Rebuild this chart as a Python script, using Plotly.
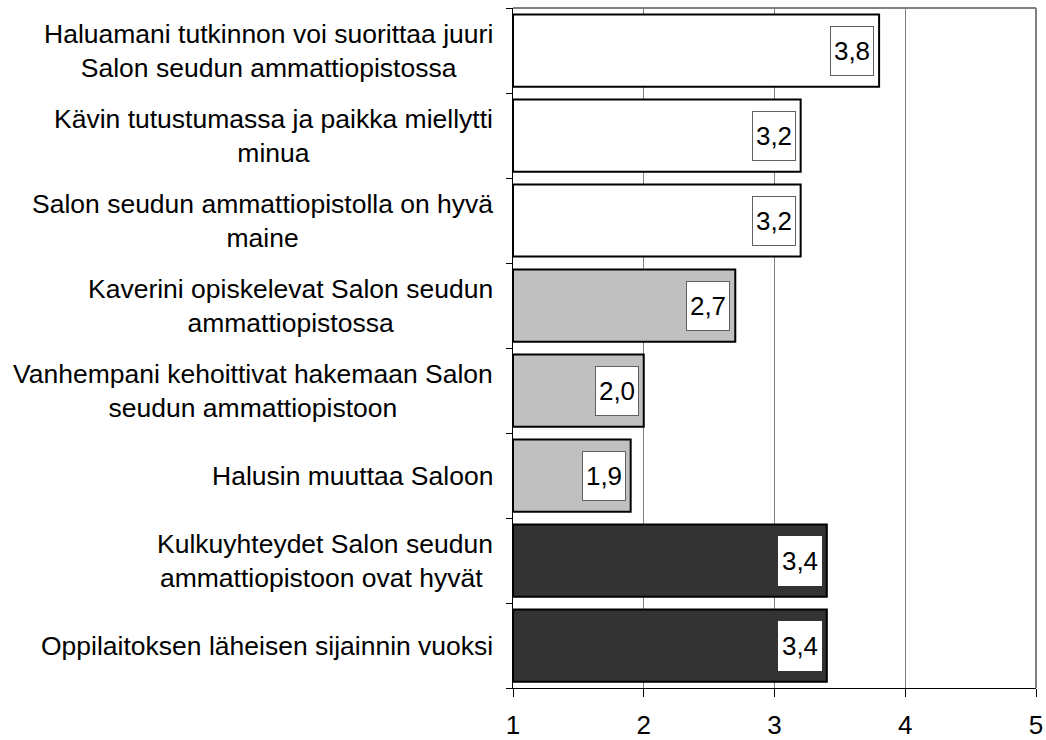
import plotly.graph_objects as go

categories = [
    "Haluamani tutkinnon voi suorittaa juuri<br>Salon seudun ammattiopistossa",
    "Kävin tutustumassa ja paikka miellytti<br>minua",
    "Salon seudun ammattiopistolla on hyvä<br>maine",
    "Kaverini opiskelevat Salon seudun<br>ammattiopistossa",
    "Vanhempani kehoittivat hakemaan Salon<br>seudun ammattiopistoon",
    "Halusin muuttaa Saloon",
    "Kulkuyhteydet Salon seudun<br>ammattiopistoon ovat hyvät\u00a0",
    "Oppilaitoksen läheisen sijainnin vuoksi",
]
values = [3.8, 3.2, 3.2, 2.7, 2.0, 1.9, 3.4, 3.4]
value_labels = ["3,8", "3,2", "3,2", "2,7", "2,0", "1,9", "3,4", "3,4"]
fill_colors = ["#FFFFFF", "#FFFFFF", "#FFFFFF", "#C0C0C0", "#C0C0C0", "#C0C0C0", "#333333", "#333333"]
x_ticks = [1, 2, 3, 4, 5]

FONT = "Arial, Liberation Sans, sans-serif"
ids = list(range(len(categories)))

fig = go.Figure()
fig.add_trace(go.Bar(
    y=ids,
    x=[v - 1 for v in values],
    base=1,
    orientation="h",
    marker=dict(color=fill_colors, line=dict(color="#000000", width=2)),
    width=0.85,
    hoverinfo="skip",
))

annotations = []
for i, (cat, v, lab, col) in enumerate(zip(categories, values, value_labels, fill_colors)):
    annotations.append(dict(
        xref="paper", yref="y", x=0, y=i, text=cat,
        xanchor="right", yanchor="middle", align="center",
        showarrow=False, xshift=-18,
        font=dict(family=FONT, size=26.5, color="#000000"),
    ))
    annotations.append(dict(
        xref="x", yref="y", x=v, y=i, text=lab,
        xanchor="right", yanchor="middle", align="center",
        showarrow=False, xshift=-5,
        bgcolor="#FFFFFF",
        bordercolor="#FFFFFF" if col == "#333333" else "#606060",
        borderwidth=1, borderpad=1, width=40, height=46,
        font=dict(family=FONT, size=26, color="#000000"),
    ))

fig.update_layout(
    width=1046, height=740,
    margin=dict(l=513, r=10, t=8, b=52, autoexpand=False),
    paper_bgcolor="#FFFFFF", plot_bgcolor="#FFFFFF",
    showlegend=False,
    bargap=0.15,
    annotations=annotations,
    xaxis=dict(
        range=[1, 5], tickvals=x_ticks, ticktext=[str(t) for t in x_ticks],
        showgrid=True, gridcolor="#808080", gridwidth=1,
        showline=True, linecolor="#000000", linewidth=1,
        ticks="outside", ticklen=8, tickcolor="#000000",
        ticklabelstandoff=6, automargin=False,
        tickfont=dict(family=FONT, size=26, color="#000000"),
        mirror=False, zeroline=False, fixedrange=True,
    ),
    yaxis=dict(
        type="linear", range=[len(categories) - 0.5, -0.5],
        tickvals=[i - 0.5 for i in range(len(categories) + 1)],
        showticklabels=False, showgrid=False, zeroline=False,
        showline=True, linecolor="#000000", linewidth=1,
        ticks="outside", ticklen=6, tickcolor="#000000",
        automargin=False, fixedrange=True,
    ),
    shapes=[
        dict(type="line", xref="paper", yref="paper", x0=0, x1=1, y0=1, y1=1,
             line=dict(color="#808080", width=2)),
        dict(type="line", xref="paper", yref="paper", x0=1, x1=1, y0=0, y1=1,
             line=dict(color="#808080", width=2)),
    ],
)

fig.write_html(
    "out.html",
    config={"displayModeBar": False},
    post_script="document.body.style.margin='0';document.body.style.padding='0';",
)
